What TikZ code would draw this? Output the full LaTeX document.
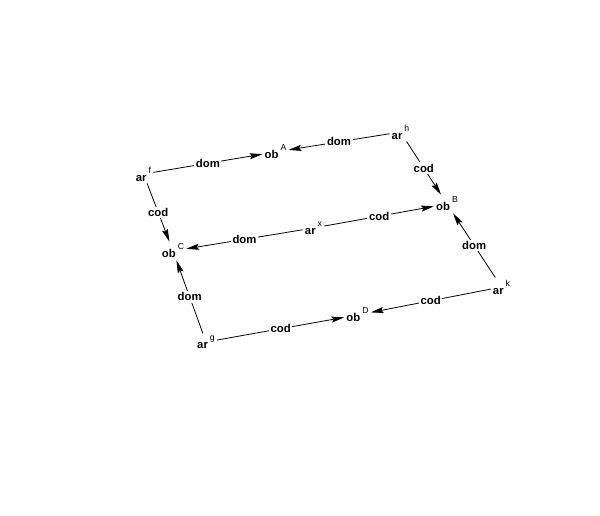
\documentclass[tikz,border=0pt]{standalone}
\usepackage{fontspec}
\setmainfont{Liberation Sans}
\usetikzlibrary{arrows.meta}
\tikzset{
  obj/.style={inner sep=1.5pt, font=\fontsize{8.5}{10}\selectfont\bfseries},
  lbl/.style={fill=white, inner sep=1.2pt, font=\fontsize{8.5}{10}\selectfont\bfseries, midway},
  arr/.style={-{Stealth[length=9.5pt,width=4.5pt,inset=1.5pt]}, line width=0.6pt},
}
\newcommand{\supx}[1]{\hspace{1.5pt}\raisebox{6pt}{\fontsize{6.5}{7}\selectfont\mdseries #1}}
\begin{document}
\begin{tikzpicture}[x=0.75pt,y=-0.75pt]
\useasboundingbox (0,0) rectangle (600,516);
\node[obj] (f) at (143.5,174) {ar\supx{f}};
\node[obj] (A) at (275.5,152) {ob\supx{A}};
\node[obj] (h) at (400.5,132) {ar\supx{h}};
\node[obj] (B) at (447,204) {ob\supx{B}};
\node[obj] (x) at (313.5,228) {ar\supx{x}};
\node[obj] (C) at (173,251) {ob\supx{C}};
\node[obj] (k) at (501.5,287) {ar\supx{k}};
\node[obj] (D) at (357.5,315) {ob\supx{D}};
\node[obj] (g) at (206,342) {ar\supx{g}};
\draw[arr] (f) -- node[lbl]{dom} (A);
\draw[arr] (h) -- node[lbl]{dom} (A);
\draw[arr] (h) -- node[lbl]{cod} (B);
\draw[arr] (f) -- node[lbl]{cod} (C);
\draw[arr] (x) -- node[lbl]{dom} (C);
\draw[arr] (x) -- node[lbl]{cod} (B);
\draw[arr] (k) -- node[lbl]{dom} (B);
\draw[arr] (g) -- node[lbl]{dom} (C);
\draw[arr] (g) -- node[lbl]{cod} (D);
\draw[arr] (k) -- node[lbl]{cod} (D);
\end{tikzpicture}
\end{document}
